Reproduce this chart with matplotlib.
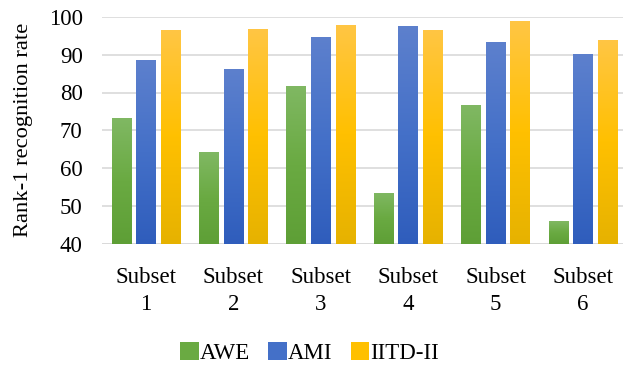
import numpy as np
import matplotlib.pyplot as plt
from matplotlib.colors import LinearSegmentedColormap
from matplotlib.patches import Patch

plt.rcParams['font.family'] = ['Liberation Serif', 'DejaVu Serif']

subsets = ['Subset\n1', 'Subset\n2', 'Subset\n3', 'Subset\n4', 'Subset\n5', 'Subset\n6']
awe = [73.3, 64.3, 81.8, 53.5, 76.7, 46.0]
ami = [88.5, 86.2, 94.8, 97.5, 93.4, 90.2]
iitd = [96.4, 96.8, 97.9, 96.6, 98.8, 93.8]
series_names = ['AWE', 'AMI', 'IITD-II']

# top, middle, bottom colours of each bar's vertical gradient
gradients = [
    ['#80b863', '#6aaa42', '#5e9f36'],
    ['#5d80cd', '#4470c8', '#2f5dbc'],
    ['#ffc644', '#ffc000', '#e6b200'],
]

fig = plt.figure(figsize=(6.23, 3.75), dpi=100)
ax = fig.add_axes([0.164, 0.35, 0.842, 0.605])

ymin, ymax = 40, 100
x = np.arange(len(subsets))
width = 0.223
gap = 0.058
offsets = [-(width + gap), 0, width + gap]

grad = np.linspace(0, 1, 256).reshape(-1, 1)
for vals, off, cols in zip([awe, ami, iitd], offsets, gradients):
    cmap = LinearSegmentedColormap.from_list('g', cols[::-1])
    bars = ax.bar(x + off, np.array(vals) - ymin, width, bottom=ymin,
                  color='none', edgecolor='none', zorder=3)
    for b in bars:
        x0, y0 = b.get_x(), b.get_y()
        im = ax.imshow(grad, cmap=cmap, origin='lower', aspect='auto',
                       extent=[x0, x0 + b.get_width(), y0, y0 + b.get_height()],
                       zorder=3)
        im.set_clip_path(b)

ax.set_xlim(-0.5, len(subsets) - 0.5)
ax.set_ylim(ymin, ymax)
ax.set_yticks(np.arange(40, 101, 10))
ax.yaxis.grid(True, color='#d9d9d9', linewidth=1.2, zorder=0)
ax.set_axisbelow(True)
for s in ax.spines.values():
    s.set_visible(False)
ax.axhline(ymin, color='#d9d9d9', linewidth=1.2, zorder=1)

ax.set_xticks(x)
ax.set_xticklabels(subsets, fontsize=16.5, linespacing=1.38)
ax.tick_params(axis='both', length=0, labelsize=16.5)
ax.tick_params(axis='x', pad=16.5)
ax.tick_params(axis='y', pad=14)
ax.set_ylabel('Rank-1 recognition rate', fontsize=16.2, labelpad=11)

handles = [Patch(facecolor=c[1], edgecolor='none') for c in gradients]
fig.legend(handles, series_names, loc='center', bbox_to_anchor=(0.497, 0.058),
           ncol=3, frameon=False, fontsize=16.5, handlelength=0.8,
           handleheight=0.8, handletextpad=0.05, columnspacing=0.8)

fig.savefig('out.png', dpi=100)
